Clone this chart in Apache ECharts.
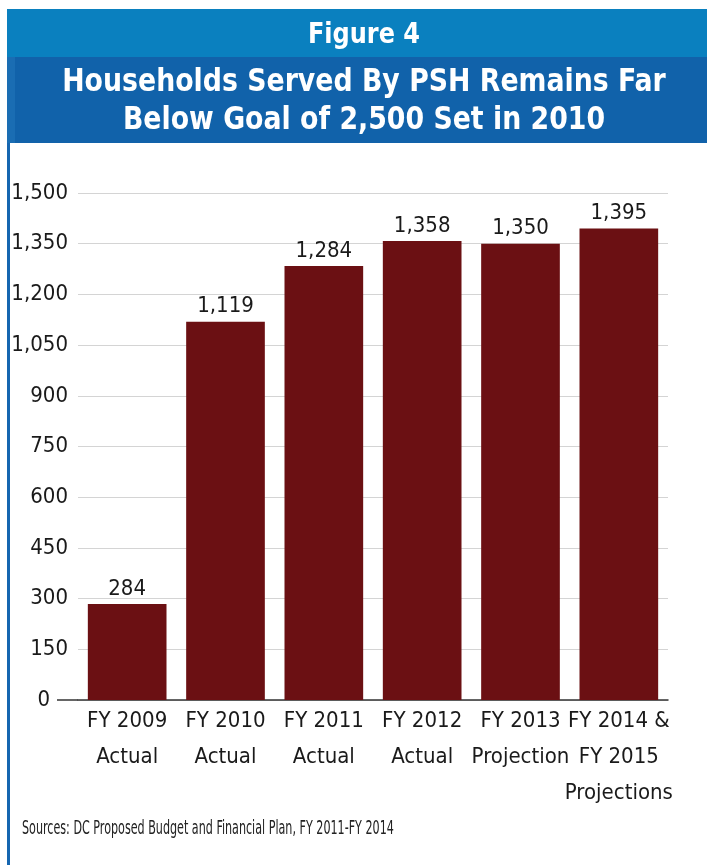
<!DOCTYPE html>
<html><head><meta charset="utf-8">
<script src="https://cdn.jsdelivr.net/npm/echarts@6/dist/echarts.min.js"></script>
<style>html,body{margin:0;padding:0;background:#fff}#c{width:707px;height:865px}</style>
</head><body><div id="c"></div>
<script>
const categories = ['FY 2009\nActual','FY 2010\nActual','FY 2011\nActual','FY 2012\nActual','FY 2013\nProjection','FY 2014 &\nFY 2015\nProjections'];
const households = [284, 1119, 1284, 1358, 1350, 1395];
const figureLabel = 'Figure 4';
const titleLines = ['Households Served By PSH Remains Far', 'Below Goal of 2,500 Set in 2010'];
const sourceText = 'Sources: DC Proposed Budget and Financial Plan, FY 2011-FY 2014';

const FONT = '"Liberation Sans Narrow","DejaVu Sans Condensed",sans-serif';
const chart = echarts.init(document.getElementById('c'));
chart.setOption({
  animation: false,
  backgroundColor: '#fff',
  textStyle: {fontFamily: FONT},
  graphic: [
    {type:'rect', shape:{x:7,y:9,width:700,height:48}, style:{fill:'#0a80bf'}, z:1},
    {type:'rect', shape:{x:7,y:57,width:700,height:86}, style:{fill:'#1162aa'}, z:1},
    {type:'rect', shape:{x:7,y:57,width:8,height:86}, style:{fill:'#1a6db3'}, z:1},
    {type:'rect', shape:{x:7,y:143,width:3,height:722}, style:{fill:'#1666b0'}, z:1},
    {type:'text', x:364, y:35, scaleX:0.92, style:{text:figureLabel, fill:'#fff', font:'bold 29px "Liberation Sans Narrow","DejaVu Sans Condensed",sans-serif', align:'center', verticalAlign:'middle'}, z:2},
    {type:'text', x:364, y:102, scaleX:0.93, style:{text:titleLines.join('\n'), fill:'#fff', lineHeight:38, font:'bold 32px "Liberation Sans Narrow","DejaVu Sans Condensed",sans-serif', align:'center', verticalAlign:'middle'}, z:2},
    {type:'text', x:22, y:829, scaleX:0.62, style:{text:sourceText, fill:'#222', font:'20px "Liberation Sans Narrow","DejaVu Sans Condensed",sans-serif', align:'left', verticalAlign:'middle'}, z:2},
    {type:'line', shape:{x1:57,y1:700,x2:78,y2:700}, style:{stroke:'#333', lineWidth:1.5}, z:2}
  ],
  grid: {left:78, right:39, top:193, bottom:165},
  xAxis: {
    type:'category', data: categories,
    axisLine:{show:true, lineStyle:{color:'#333', width:1.5}},
    axisTick:{show:false},
    axisLabel:{color:'#1a1a1a', fontSize:22, lineHeight:36, margin:3, fontFamily:FONT, interval:0}
  },
  yAxis: {
    type:'value', min:0, max:1500, interval:150,
    axisLine:{show:false}, axisTick:{show:false},
    splitLine:{lineStyle:{color:'#d4d4d4', width:1}},
    axisLabel:{color:'#1a1a1a', fontSize:22, margin:10, fontFamily:FONT,
      formatter: v => v === 0 ? '{z|0}' : v.toLocaleString('en-US'),
      rich:{z:{fontSize:22, fontFamily:FONT, color:'#1a1a1a', padding:[0,18,0,0]}}}
  },
  series: [{
    type:'bar', data: households, barCategoryGap:'20%',
    itemStyle:{color:'#6b1013'},
    label:{show:true, position:'top', distance:4, color:'#1a1a1a', fontSize:22, fontFamily:FONT,
      formatter: p => p.value.toLocaleString('en-US')}
  }]
});
</script></body></html>
